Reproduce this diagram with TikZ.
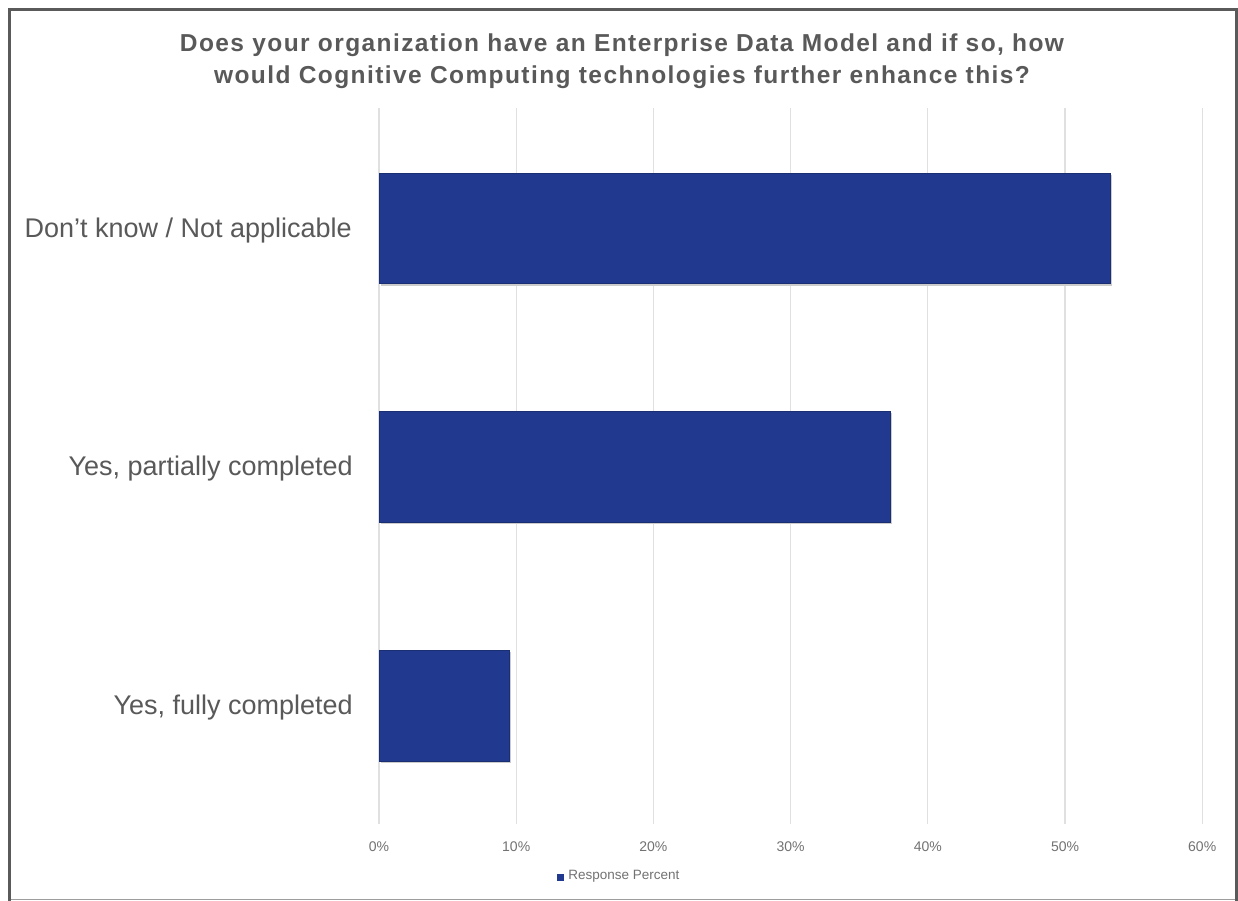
\documentclass[tikz,border=0pt]{standalone}
\usepackage{fontspec}
\setmainfont{Liberation Sans}
\newfontfamily\titlefont[LetterSpace=5.8]{Liberation Sans}
\usetikzlibrary{positioning}
\definecolor{barblue}{HTML}{213A8F}
\definecolor{textgray}{HTML}{595959}
\definecolor{gridgray}{HTML}{E0E0E0}
\definecolor{framegray}{HTML}{5A5A5A}

\begin{document}
\begin{tikzpicture}[x=1pt,y=-1pt]
\tikzstyle{catlabel}=[anchor=east,inner sep=0pt,text=textgray,
font=\fontsize{27}{30}\selectfont]
\tikzstyle{ticklabel}=[anchor=center,inner sep=0pt,text=textgray!85,
font=\fontsize{14}{16}\selectfont]
\tikzstyle{bar}=[fill=barblue,draw=barblue!80!black,line width=0.6pt]
\useasboundingbox (0,0) rectangle (1238,901);
\fill[white] (0,0) rectangle (1238,901);

% frame
\draw[gridgray!70!black,line width=1pt] (9,899.5) -- (1236.5,899.5);
\draw[framegray,line width=3pt] (9,901) -- (9,10) -- (1236.5,10) -- (1236.5,901);

% title
\node[text=textgray,align=center,inner sep=0pt,
font=\titlefont\bfseries\fontsize{24.5}{32}\selectfont] (title) at (622,61)
{Does your organization have an Enterprise Data Model and if so, how\\
would Cognitive Computing technologies further enhance this?};

% grid and ticks
\foreach \p in {0,10,...,60}{
\draw[gridgray,line width=1.2pt] (379+13.72*\p,108) -- (379+13.72*\p,824);
\node[ticklabel] (t\p) at (379+13.72*\p,847) {\p\%};
}

% bars
\fill[black!20] (381,175) rectangle (1112,286);
\fill[black!20] (381,413) rectangle (892,524);
\fill[black!20] (381,652) rectangle (511,763);
\path[bar] (379,173) rectangle (1110,283);
\path[bar] (379,411) rectangle (890,522);
\path[bar] (379,650) rectangle (509,761);

% categories
\node[catlabel] (c1) at (352,231) {Don’t know / Not applicable};
\node[catlabel] (c2) at (353,469) {Yes, partially completed};
\node[catlabel] (c3) at (353,708) {Yes, fully completed};

% legend
\node[fill=barblue,inner sep=0pt,minimum size=7pt] (key) at (560.5,877.5) {};
\node[ticklabel,anchor=west,right=4pt of key,yshift=1pt,
font=\fontsize{13.5}{16}\selectfont] (keytext) {Response Percent};

\end{tikzpicture}
\end{document}
